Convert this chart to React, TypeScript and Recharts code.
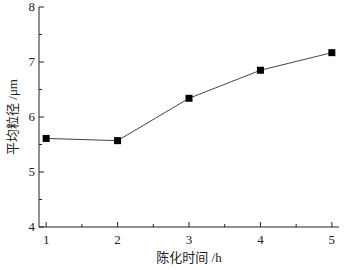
import { LineChart, Line, XAxis, YAxis } from "recharts";

const agingHours = [1, 2, 3, 4, 5];
const meanSize = [5.61, 5.57, 6.34, 6.85, 7.17];
const xTicks = [1, 1.5, 2, 2.5, 3, 3.5, 4, 4.5, 5];
const yTicks = [4, 4.5, 5, 5.5, 6, 6.5, 7, 7.5, 8];

const FONT = "'Liberation Serif', 'Noto Sans CJK SC', serif";
const INK = "#222";

const data = agingHours.map((h, i) => ({ h, size: meanSize[i] }));

function XTick(props: any) {
  const { x, y, payload } = props;
  const major = Number.isInteger(payload.value);
  return (
    <g>
      <line x1={x} x2={x} y1={y} y2={y - (major ? 5 : 3)} stroke={INK} />
      {major && (
        <text x={x} y={y + 17} textAnchor="middle" fontSize={13} fill={INK} fontFamily={FONT}>
          {payload.value}
        </text>
      )}
    </g>
  );
}

function YTick(props: any) {
  const { x, y, payload } = props;
  const major = Number.isInteger(payload.value);
  return (
    <g>
      <line x1={x} x2={x + (major ? 5 : 3)} y1={y} y2={y} stroke={INK} />
      {major && (
        <text x={x - 4} y={y + 4} textAnchor="end" fontSize={13} fill={INK} fontFamily={FONT}>
          {payload.value}
        </text>
      )}
    </g>
  );
}

function SquareDot(props: any) {
  const { cx, cy } = props;
  return <rect x={cx - 3.5} y={cy - 3.5} width={7} height={7} fill="#000" />;
}

export default function App() {
  return (
    <div style={{ position: "fixed", left: 0, top: 0, background: "#fff" }}>
      <LineChart width={349} height={270} data={data} margin={{ top: 7, right: 10, bottom: 0, left: 0 }}>
        <XAxis
          dataKey="h"
          type="number"
          domain={[0.9, 5.1]}
          ticks={xTicks}
          interval={0}
          tickSize={0}
          tickMargin={0}
          tickLine={false}
          tick={<XTick />}
          axisLine={{ stroke: INK }}
          height={43}
          label={{
            value: "陈化时间 /h",
            position: "insideBottom",
            offset: 8,
            fontSize: 13,
            fill: INK,
            fontFamily: FONT,
          }}
        />
        <XAxis xAxisId="top" orientation="top" type="number" domain={[0.9, 5.1]} ticks={[]} height={0} axisLine={{ stroke: INK }} tick={false} tickLine={false} />
        <YAxis
          type="number"
          domain={[4, 8]}
          ticks={yTicks}
          interval={0}
          width={39}
          tickSize={0}
          tickMargin={0}
          tickLine={false}
          tick={<YTick />}
          axisLine={{ stroke: INK }}
          label={{
            value: "平均粒径 /μm",
            angle: -90,
            position: "insideLeft",
            offset: 12,
            style: { textAnchor: "middle" },
            fontSize: 13,
            fill: INK,
            fontFamily: FONT,
          }}
        />
        <YAxis yAxisId="right" orientation="right" type="number" domain={[4, 8]} ticks={[]} width={0} axisLine={{ stroke: INK }} tick={false} tickLine={false} />
        <Line
          dataKey="size"
          stroke="#444"
          strokeWidth={1}
          dot={<SquareDot />}
          activeDot={false}
          isAnimationActive={false}
        />
      </LineChart>
    </div>
  );
}
